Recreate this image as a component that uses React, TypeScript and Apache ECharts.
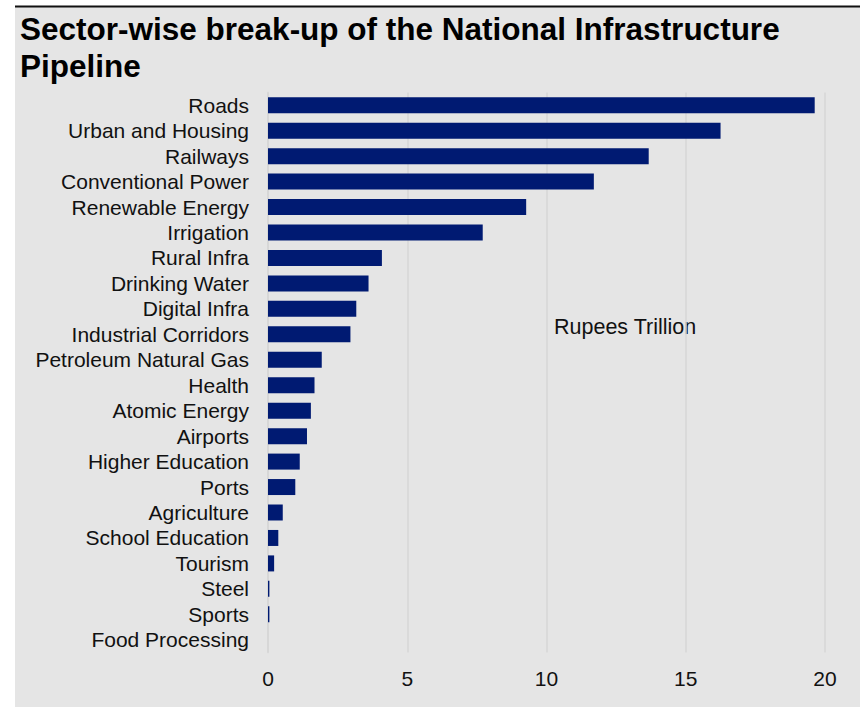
import React, { useEffect, useRef } from "react";
import * as echarts from "echarts";

const categories = [
  "Roads",
  "Urban and Housing",
  "Railways",
  "Conventional Power",
  "Renewable Energy",
  "Irrigation",
  "Rural Infra",
  "Drinking Water",
  "Digital Infra",
  "Industrial Corridors",
  "Petroleum Natural Gas",
  "Health",
  "Atomic Energy",
  "Airports",
  "Higher Education",
  "Ports",
  "Agriculture",
  "School Education",
  "Tourism",
  "Steel",
  "Sports",
  "Food Processing",
];

const values = [
  19.63, 16.25, 13.67, 11.7, 9.27, 7.71, 4.09, 3.61, 3.17, 2.96, 1.93, 1.67,
  1.54, 1.4, 1.14, 0.98, 0.53, 0.37, 0.22, 0.05, 0.05, 0,
];

const xTicks = { min: 0, max: 20, interval: 5 };

const titleText = "Sector-wise break-up of the National Infrastructure\nPipeline";
const unitText = "Rupees Trillion";

const FONT = "'Liberation Sans', Arial, Helvetica, sans-serif";

export default function App() {
  const ref = useRef<HTMLDivElement>(null);
  useEffect(() => {
    if (!ref.current) return;
    const chart = echarts.init(ref.current, null, { renderer: "svg" });
    chart.setOption({
      animation: false,
      backgroundColor: "#ffffff",
      title: {
        text: titleText,
        left: 20,
        top: 10,
        padding: 0,
        textStyle: {
          fontFamily: FONT,
          fontSize: 31.5,
          fontWeight: "bold",
          lineHeight: 37,
          color: "#000000",
        },
      },
      graphic: [
        {
          type: "rect",
          z: -10,
          silent: true,
          shape: { x: 15, y: 7, width: 845, height: 700 },
          style: { fill: "#e5e5e5" },
        },
        {
          type: "rect",
          z: -9,
          silent: true,
          shape: { x: 15, y: 5.5, width: 845, height: 2 },
          style: { fill: "#111111" },
        },
        {
          type: "text",
          x: 554,
          y: 327,
          silent: true,
          style: {
            text: unitText,
            fontFamily: FONT,
            fontSize: 21.5,
            fill: "#111111",
            verticalAlign: "middle",
            align: "left",
          },
        },
      ],
      grid: {
        left: 268,
        right: 35,
        top: 92.5,
        height: 560,
        containLabel: false,
      },
      xAxis: {
        type: "value",
        min: xTicks.min,
        max: xTicks.max,
        interval: xTicks.interval,
        axisLine: { show: false },
        axisTick: { show: false },
        splitLine: { lineStyle: { color: "#d6d6d6", width: 1.5 } },
        axisLabel: {
          fontFamily: FONT,
          fontSize: 21,
          color: "#111111",
          margin: 15,
        },
      },
      yAxis: {
        type: "category",
        data: categories,
        inverse: true,
        axisTick: { show: false },
        axisLine: { show: true, lineStyle: { color: "#d6d6d6", width: 1.5 } },
        axisLabel: {
          interval: 0,
          fontFamily: FONT,
          fontSize: 21,
          color: "#111111",
          margin: 19,
        },
      },
      series: [
        {
          type: "bar",
          data: values,
          barWidth: 16,
          itemStyle: { color: "#001a72" },
        },
      ],
    });
    return () => chart.dispose();
  }, []);
  return (
    <div
      ref={ref}
      style={{ position: "absolute", left: 0, top: 0, width: 860, height: 707 }}
    />
  );
}
